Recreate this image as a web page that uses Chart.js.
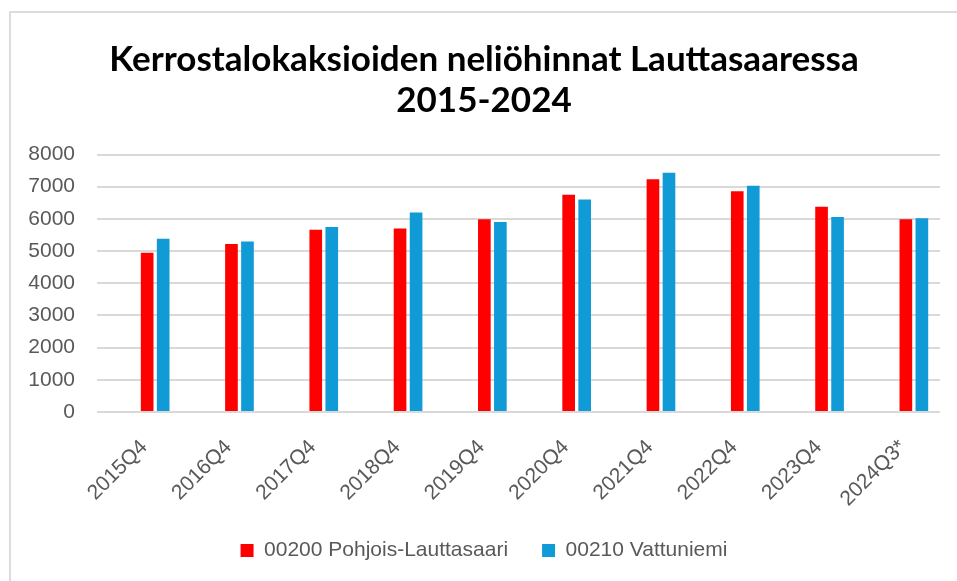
<!DOCTYPE html>
<html lang="fi">
<head>
<meta charset="utf-8">
<title>Kerrostalokaksioiden neliöhinnat Lauttasaaressa 2015-2024</title>
<script src="https://cdn.jsdelivr.net/npm/chart.js@4.4.1/dist/chart.umd.min.js"></script>
<style>
    html, body { margin: 0; padding: 0; background: #fff; }
    #wrap { position: relative; width: 957px; height: 581px; overflow: hidden; }
    #frame {
        position: absolute; left: 9px; top: 11px; right: -4px; bottom: -4px;
        border-top: 2px solid #dcdcdc; border-left: 2px solid #dcdcdc;
    }
    #chart { position: absolute; left: 0; top: 0; }
</style>
</head>
<body>
<div id="wrap">
    <div id="frame"></div>
    <canvas id="chart" width="957" height="581"></canvas>
</div>
<script>
// ===================== Data =====================
const quarters = ['2015Q4', '2016Q4', '2017Q4', '2018Q4', '2019Q4', '2020Q4', '2021Q4', '2022Q4', '2023Q4', '2024Q3*'];
const pohjoisLauttasaari = [4950, 5220, 5660, 5700, 5990, 6750, 7230, 6860, 6380, 5990];
const vattuniemi = [5380, 5300, 5750, 6200, 5900, 6600, 7430, 7030, 6060, 6020];
// the original sheet has two more series per quarter that are left empty
const emptySeriesA = [];
const emptySeriesB = [];
const titleLines = ['Kerrostalokaksioiden neliöhinnat Lauttasaaressa', '2015-2024'];

// ===================== Chart =====================
const labelFont = { family: "'Liberation Sans', Arial, sans-serif", size: 21 };
const gray = '#595959';

const ctx = document.getElementById('chart').getContext('2d');
const priceChart = new Chart(ctx, {
    type: 'bar',
    data: {
        labels: quarters,
        datasets: [
            { label: '', data: emptySeriesA },
            { label: '', data: emptySeriesB },
            {
                label: '00200 Pohjois-Lauttasaari',
                data: pohjoisLauttasaari,
                backgroundColor: '#ff0000',
                borderWidth: 0
            },
            {
                label: '00210 Vattuniemi',
                data: vattuniemi,
                backgroundColor: '#119bd6',
                borderWidth: 0
            }
        ]
    },
    options: {
        responsive: false,
        animation: false,
        categoryPercentage: 0.76,
        barPercentage: 0.79,
        layout: { padding: { left: 28, right: 17, top: 0, bottom: 10 } },
        plugins: {
            title: {
                display: true,
                text: titleLines,
                color: '#000',
                font: { family: "Lato, 'Open Sans', sans-serif", size: 35, weight: 'bold', lineHeight: 1.15 },
                padding: { top: 40, bottom: 34 }
            },
            legend: {
                position: 'bottom',
                labels: {
                    boxWidth: 13,
                    boxHeight: 13,
                    padding: 34,
                    color: gray,
                    font: labelFont,
                    filter: item => item.text !== ''
                }
            },
            tooltip: { enabled: false }
        },
        scales: {
            x: {
                afterFit: scale => { scale.height = 94; },
                grid: { display: false },
                border: { display: false },
                ticks: {
                    color: gray,
                    font: labelFont,
                    minRotation: 45,
                    maxRotation: 45,
                    padding: 15,
                    labelOffset: 5
                }
            },
            y: {
                min: 0,
                max: 8000,
                afterFit: scale => { scale.width = 69; },
                grid: { color: '#d9d9d9', lineWidth: 2, drawTicks: false },
                border: { display: false },
                ticks: {
                    stepSize: 1000,
                    color: gray,
                    font: labelFont,
                    padding: 22,
                    callback: value => String(value)
                }
            }
        }
    }
});
</script>
</body>
</html>
